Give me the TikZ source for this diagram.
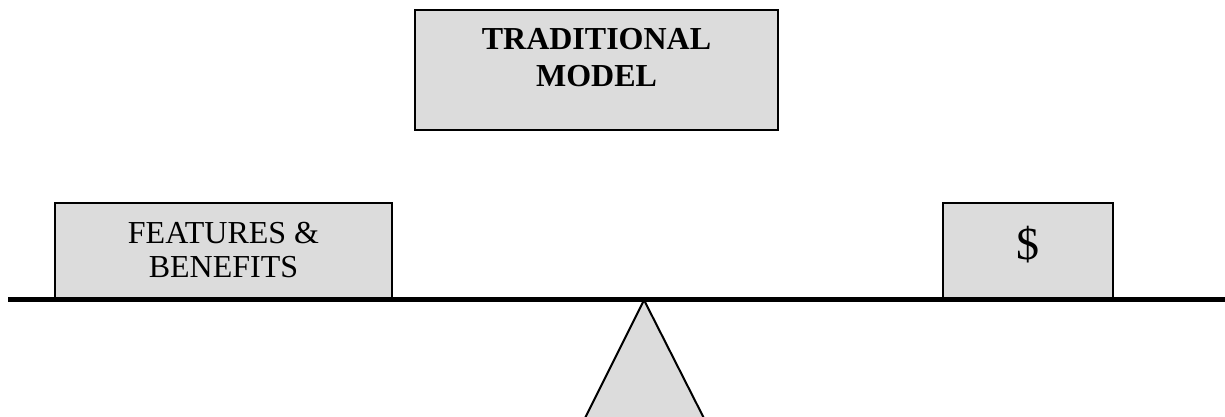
\documentclass[tikz,border=0pt]{standalone}
\usepackage{fontspec}
\setmainfont{Liberation Serif}
\usetikzlibrary{positioning}
\definecolor{boxgray}{RGB}{220,220,220}
\begin{document}
\begin{tikzpicture}[x=1pt,y=-1pt,
  weight/.style={draw=black,fill=boxgray,line width=2pt,inner sep=0pt},
  caption/.style={align=center,inner sep=0pt}]
\useasboundingbox (0,0) rectangle (1225,416);
\clip (0,0) rectangle (1225,416);
% fulcrum
\coordinate (apex) at (644,300);
\coordinate (foot left) at (574,440);
\coordinate (foot right) at (715,440);
\draw [black,fill=boxgray,line width=2pt,line join=miter] (foot left) -- (apex) -- (foot right);
% title
\node [weight,minimum width=363,minimum height=120] (model) at (596.5,70) {};
\node [caption,below=19pt of model.north,font=\fontsize{32}{36.7}\selectfont\bfseries] (model text) {TRADITIONAL\\MODEL};
% loads
\node [weight,caption,minimum width=337,minimum height=95,font=\fontsize{32}{34}\selectfont] (features) at (223.5,250.5) {FEATURES \&\\BENEFITS};
\node [weight,minimum width=170,minimum height=95,text depth=16pt,font=\fontsize{46}{50}\selectfont] (price) at (1028,250.5) {\$};
% beam
\coordinate (beam left) at (8,299);
\coordinate (beam right) at (1230,299);
\draw [black,line width=5pt] (beam left) -- (beam right);
\end{tikzpicture}
\end{document}
